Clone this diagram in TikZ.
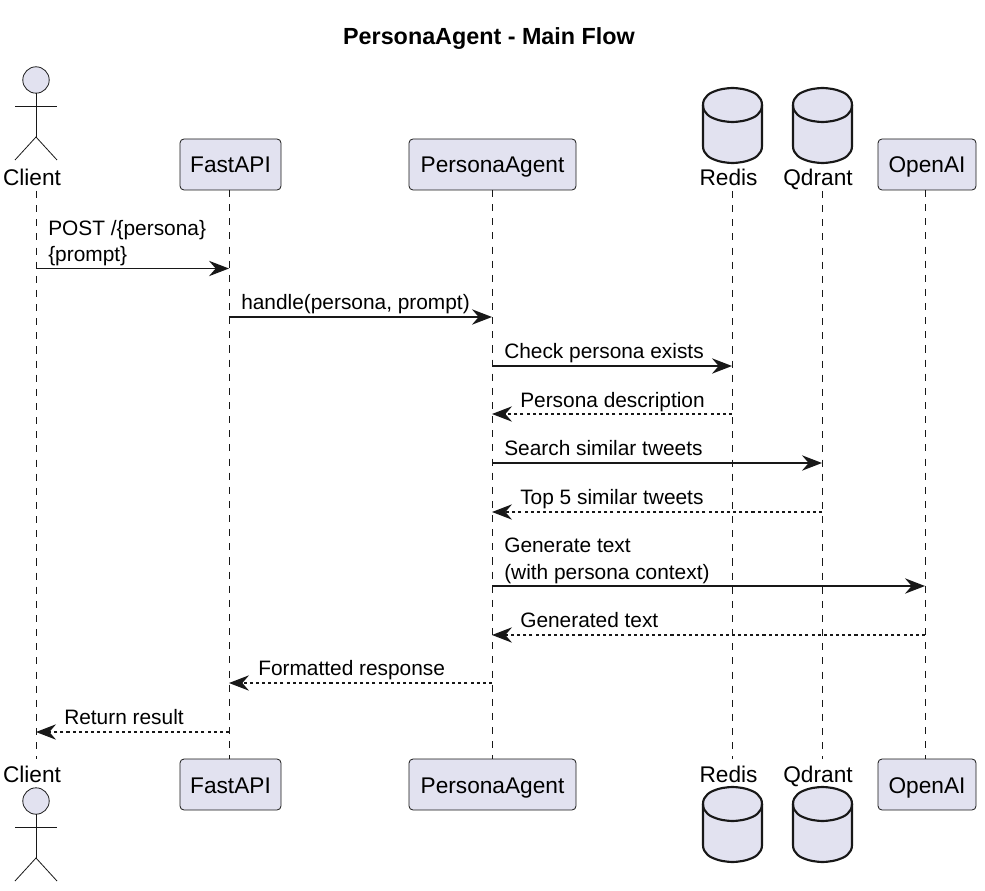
\documentclass[tikz,border=0pt]{standalone}
\usepackage{fontspec}
\setmainfont{Liberation Sans}
\usetikzlibrary{arrows.meta}
\definecolor{pfill}{HTML}{E2E2F0}
\definecolor{pline}{HTML}{181818}
\tikzset{
  x=0.75pt,y=-0.75pt,
  part/.style={draw=pline,fill=pfill,rounded corners=3pt,line width=0.6pt,text height=25.5pt,text depth=12.75pt,inner xsep=0pt,inner ysep=0pt,font=\fontsize{17}{20}\selectfont},
  plabel/.style={inner sep=0pt,anchor=base,font=\fontsize{17}{20}\selectfont},
  life/.style={draw=pline,line width=0.55pt,dash pattern=on 5.3pt off 5.3pt},
  msg/.style={draw=pline,line width=1.05pt,-{Stealth[length=15pt,width=11.5pt,inset=5pt]}},
  ret/.style={msg,line width=0.85pt,dash pattern=on 2.3pt off 2.3pt},
  mlabel/.style={inner sep=0pt,anchor=base west,font=\fontsize{15.65}{19.3}\selectfont,align=left},
  actorline/.style={draw=pline,line width=0.6pt},
  dbshape/.style={draw=pline,fill=pfill,line width=1.6pt},
}
\newcommand{\dbicon}[2]{% left x, top y
  \begin{scope}[shift={(#1,#2)}]
    \path[dbshape] (0,17) .. controls (0,0) and (29.5,0) .. (29.5,0)
      .. controls (29.5,0) and (59,0) .. (59,17)
      -- (59,58) .. controls (59,75) and (29.5,75) .. (29.5,75)
      .. controls (29.5,75) and (0,75) .. (0,58) -- cycle;
    \path[dbshape,fill=none] (0,17) .. controls (0,34) and (29.5,34) .. (29.5,34)
      .. controls (29.5,34) and (59,34) .. (59,17);
  \end{scope}}
\newcommand{\actoricon}[2]{% centre x, head centre y
  \begin{scope}[shift={(#1,#2)}]
    \draw[actorline,fill=pfill] (0,0) circle[radius=9.9pt];
    \draw[actorline] (0,13) -- (0,57);
    \draw[actorline] (-21,26) -- (21,26);
    \draw[actorline] (-21,80) -- (0,57) -- (21,80);
  \end{scope}}
\begin{document}
\begin{tikzpicture}
\useasboundingbox (0,0) rectangle (985,891);
\node[inner sep=0pt,anchor=base,font=\bfseries\fontsize{17.5}{20}\selectfont] (title) at (489,45) {PersonaAgent - Main Flow};

% lifeline ends
\coordinate (clientT) at (36,191);  \coordinate (clientB) at (36,759);
\coordinate (redisT) at (732,191);  \coordinate (redisB) at (732,759);
\coordinate (qdrantT) at (822,191); \coordinate (qdrantB) at (822,759);

% top participants
\actoricon{36}{80}
\node[plabel] (clientTop) at (32,186) {Client};
\node[part,minimum width=75.75pt] (fastT) at (230.5,164.5) {FastAPI};
\node[part,minimum width=125.25pt] (agentT) at (492.5,164.5) {PersonaAgent};
\dbicon{703}{88}
\node[plabel] (redisTop) at (728.5,186) {Redis};
\dbicon{793}{88}
\node[plabel] (qdrantTop) at (818,186) {Qdrant};
\node[part,minimum width=73.5pt] (openT) at (927,164.5) {OpenAI};

% bottom participants
\actoricon{36}{801}
\node[plabel] (clientBot) at (32,782) {Client};
\node[part,minimum width=75.75pt] (fastB) at (230.5,784.5) {FastAPI};
\node[part,minimum width=125.25pt] (agentB) at (492.5,784.5) {PersonaAgent};
\dbicon{703}{787}
\node[plabel] (redisBot) at (728.5,782) {Redis};
\dbicon{793}{787}
\node[plabel] (qdrantBot) at (818,782) {Qdrant};
\node[part,minimum width=73.5pt] (openB) at (927,784.5) {OpenAI};

% lifelines
\coordinate (fastTx) at (229,190); \coordinate (fastBx) at (229,759);
\coordinate (agentTx) at (492,190); \coordinate (agentBx) at (492,759);
\coordinate (openTx) at (925,190); \coordinate (openBx) at (925,759);
\draw[life] (clientT) -- (clientB);
\draw[life] (fastTx) -- (fastBx);
\draw[life] (agentTx) -- (agentBx);
\draw[life] (redisT) -- (redisB);
\draw[life] (qdrantT) -- (qdrantB);
\draw[life] (openTx) -- (openBx);

% messages
\draw[msg] (clientT |- 0,268.5) -- (fastTx |- 0,268.5);
\node[mlabel] (m1) at (48,236) {POST /\{persona\}};
\node[mlabel] (m1b) at (48,262) {\{prompt\}};
\draw[msg] (fastTx |- 0,317) -- (agentTx |- 0,317);
\node[mlabel] (m2) at (241,310) {handle(persona, prompt)};
\draw[msg] (agentTx |- 0,366) -- (redisT |- 0,366);
\node[mlabel] (m3) at (504,358) {Check persona exists};
\draw[ret] (redisT |- 0,414) -- (agentTx |- 0,414);
\node[mlabel] (m4) at (520,407) {Persona description};
\draw[msg] (agentTx |- 0,463) -- (qdrantT |- 0,463);
\node[mlabel] (m5) at (504,455) {Search similar tweets};
\draw[ret] (qdrantT |- 0,512) -- (agentTx |- 0,512);
\node[mlabel] (m6) at (520,504) {Top 5 similar tweets};
\draw[msg] (agentTx |- 0,586) -- (openTx |- 0,586);
\node[mlabel] (m7) at (504,552) {Generate text};
\node[mlabel] (m7b) at (504,579) {(with persona context)};
\draw[ret] (openTx |- 0,635) -- (agentTx |- 0,635);
\node[mlabel] (m8) at (520,627) {Generated text};
\draw[ret] (agentTx |- 0,683) -- (fastTx |- 0,683);
\node[mlabel] (m9) at (258,675) {Formatted response};
\draw[ret] (fastTx |- 0,732) -- (clientT |- 0,732);
\node[mlabel] (m10) at (64,724) {Return result};
\end{tikzpicture}
\end{document}
